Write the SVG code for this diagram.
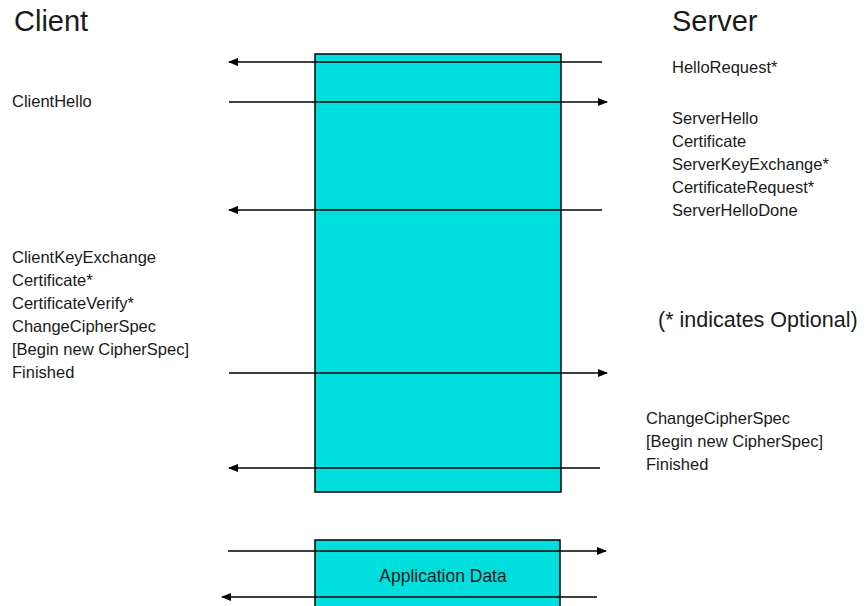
<svg xmlns="http://www.w3.org/2000/svg" width="866" height="606" viewBox="0 0 866 606">
<defs>
<marker id="ah" markerWidth="10" markerHeight="8" refX="9" refY="4" orient="auto" markerUnits="userSpaceOnUse">
<path d="M0,0 L10,4 L0,8 z" fill="#000"/>
</marker>
<style>
.t{font-family:"Liberation Sans",Arial,sans-serif;font-size:16.5px;fill:#1a1a1a}
.h{font-family:"Liberation Sans",Arial,sans-serif;font-size:29px;fill:#1a1a1a}
.box{fill:#00dede;stroke:#000;stroke-width:1.5}
.c{stroke:#000;stroke-width:1.6;fill:none;marker-end:url(#ah)}
</style>
</defs>
<rect width="866" height="606" fill="#fff"/>
<g id="titles">
<text class="h" x="14" y="31">Client</text>
<text class="h" x="672" y="31">Server</text>
</g>
<g id="handshake-box"><rect class="box" x="315" y="54" width="246" height="438"/></g>
<g id="appdata-box"><rect class="box" x="315" y="540" width="245" height="70"/>
<text class="t" x="443" y="582" text-anchor="middle" style="font-size:17.5px">Application Data</text></g>
<g id="connectors">
<line class="c" x1="602" y1="62" x2="229" y2="62"/>
<line class="c" x1="229" y1="102" x2="607" y2="102"/>
<line class="c" x1="602" y1="210" x2="229" y2="210"/>
<line class="c" x1="229" y1="373" x2="607" y2="373"/>
<line class="c" x1="600" y1="468" x2="229" y2="468"/>
<line class="c" x1="228" y1="551" x2="606" y2="551"/>
<line class="c" x1="597" y1="597" x2="222" y2="597"/>
</g>
<g id="client-hello"><text class="t" x="12" y="107">ClientHello</text></g>
<g id="hello-request"><text class="t" x="672" y="73">HelloRequest*</text></g>
<g id="server-hello">
<text class="t" x="672" y="124">ServerHello</text>
<text class="t" x="672" y="147">Certificate</text>
<text class="t" x="672" y="170">ServerKeyExchange*</text>
<text class="t" x="672" y="193">CertificateRequest*</text>
<text class="t" x="672" y="216">ServerHelloDone</text>
</g>
<g id="client-key-exchange">
<text class="t" x="12" y="263">ClientKeyExchange</text>
<text class="t" x="12" y="286">Certificate*</text>
<text class="t" x="12" y="309">CertificateVerify*</text>
<text class="t" x="12" y="332">ChangeCipherSpec</text>
<text class="t" x="12" y="355">[Begin new CipherSpec]</text>
<text class="t" x="12" y="378">Finished</text>
</g>
<g id="note"><text x="658" y="327" style="font-family:'Liberation Sans',Arial,sans-serif;font-size:21.5px;fill:#1a1a1a">(* indicates Optional)</text></g>
<g id="server-finished">
<text class="t" x="646" y="424">ChangeCipherSpec</text>
<text class="t" x="646" y="447">[Begin new CipherSpec]</text>
<text class="t" x="646" y="470">Finished</text>
</g>
</svg>
